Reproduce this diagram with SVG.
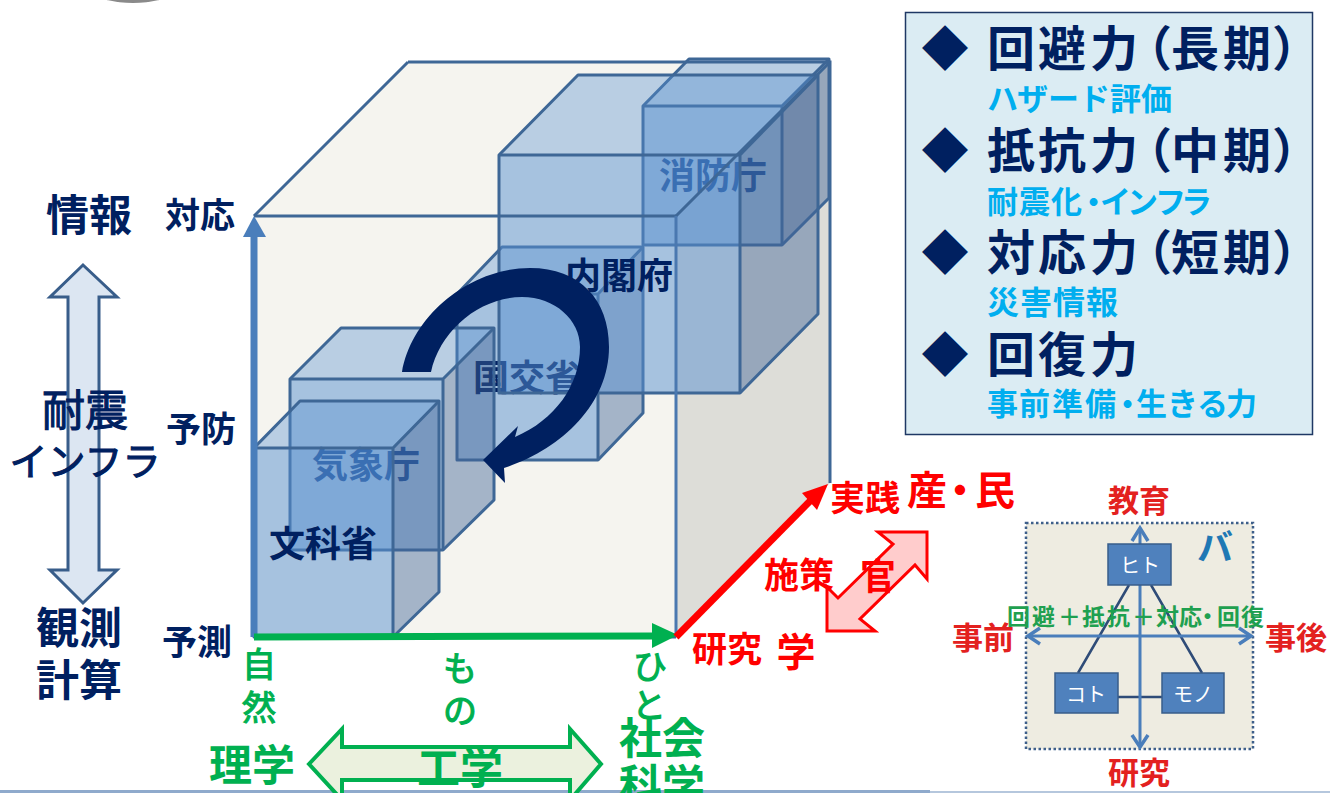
<svg xmlns="http://www.w3.org/2000/svg" width="1334" height="793" viewBox="0 0 1334 793">
<style>
text{font-family:"Noto Sans CJK JP","Liberation Sans",sans-serif;text-anchor:middle;dominant-baseline:central;font-weight:700}
.navy{fill:#002060}
.grn{fill:#00B050}
.thin{font-weight:400;stroke-width:1.1px}
.grn.thin{stroke:#00B050}
.navy.thin{stroke:#002060}
.red{fill:#FF0000}
.sky{fill:#00AEEF}
.rd2{fill:#E3211F}
.l{text-anchor:start}
.f{fill:#5890D0;fill-opacity:.5}
.t{fill:#5890D0;fill-opacity:.38}
.s{fill:#43659A;fill-opacity:.45}
.e{fill:none;stroke:#3E6796;stroke-width:3;stroke-linejoin:round}
.cube{fill:none;stroke:#3E6796;stroke-width:3}
.node{fill:#4F81BD;stroke:#385D8A;stroke-width:1.5}
.wt{fill:#fff;font-size:20px;font-weight:400}
.ln{stroke:#2F4C78;stroke-width:2.5;fill:none}
.ax{stroke:#4A7EBB;stroke-width:3;fill:none}
.hd{stroke:#4A7EBB;stroke-width:3.5;fill:none}
</style>
<ellipse id="top-shadow" cx="133" cy="-6" rx="35" ry="9" fill="#8A8A8A"/>
<rect x="0" y="790" width="930" height="3" fill="#8FAACC"/>
<rect x="930" y="791" width="400" height="2" fill="#B5C7DD"/>

<g id="cube-back">
<polygon points="254,216 408,62 830,62 830,483 676,637 254,637" fill="#F5F4EF"/>
<polygon points="676,216 830,62 830,483 676,637" fill="#DDDDD8"/>
</g>

<g id="node-kokkosho">
<polygon class="t" points="457,294 502,247 643,247 598,294"/>
<rect class="f" x="457" y="294" width="141" height="166"/>
<polygon class="s" points="598,294 643,247 643,413 598,460"/>
<polygon class="e" points="457,294 502,247 643,247 643,413 598,460 457,460"/>
<path class="e" d="M457,294H598V460M598,294L643,247"/>
<text class="navy" x="527" y="375" font-size="36">国交省</text>
</g>

<g id="node-shobocho">
<polygon class="t" points="643,106 689,59 829,59 782,106"/>
<rect class="f" x="643" y="106" width="139" height="139"/>
<polygon class="s" points="782,106 829,59 829,198 782,245"/>
<polygon class="e" points="643,106 689,59 829,59 829,198 782,245 643,245"/>
<path class="e" d="M643,106H782V245M782,106L829,59"/>
<text x="713" y="173" font-size="36" fill="#1D4E96">消防庁</text>
</g>

<g id="node-naikakufu">
<polygon class="t" points="499,155 578,75 818,75 740,155"/>
<rect class="f" x="499" y="155" width="241" height="238"/>
<polygon class="s" points="740,155 818,75 818,314 740,393"/>
<polygon class="e" points="499,155 578,75 818,75 818,314 740,393 499,393"/>
<path class="e" d="M499,155H740V393M740,155L818,75"/>
</g>

<g id="node-kishocho">
<polygon class="t" points="290,379 341,328 494,328 443,379"/>
<rect class="f" x="290" y="379" width="153" height="171"/>
<polygon class="s" points="443,379 494,328 494,500 443,550"/>
<polygon class="e" points="290,379 341,328 494,328 494,500 443,550 290,550"/>
<path class="e" d="M290,379H443V550M443,379L494,328"/>
<text x="366" y="462" font-size="36" fill="#1D4E96">気象庁</text>
</g>

<g id="node-monkasho">
<polygon class="t" points="254,448 300,401 439,401 393,448"/>
<rect class="f" x="254" y="448" width="139" height="189"/>
<polygon class="s" points="393,448 439,401 439,592 393,637"/>
<polygon class="e" points="254,448 300,401 439,401 439,592 393,637 254,637"/>
<path class="e" d="M254,448H393V637M393,448L439,401"/>
<text class="navy" x="323" y="541" font-size="36">文科省</text>
</g>

<g id="cube-front">
<path class="cube" d="M408,62H830V483M254,216L408,62M830,62L676,216"/>
<path d="M254,216H676" stroke="#3E6796" stroke-width="3" fill="none"/>
<path d="M676,216V637" stroke="#4A78B0" stroke-width="3" fill="none"/>
<path class="cube" d="M254,637H676"/>
</g>

<g id="connectors">
<path id="cycle-arrow" fill="#002060" d="M402,372 C412,315 470,268 530,268 C580,268 609,300 609,347 C609,405 560,450 504,468 L505,483 L483,460 L518,426 L515,437 C555,420 580,385 580,347 C580,320 555,297 522,297 C480,297 440,330 431,372 Z"/>
<path d="M254,637V232" stroke="#4A7EBB" stroke-width="7" fill="none"/>
<polygon points="243,237 254,216 266,237" fill="#4A7EBB"/>
<path d="M254,637L655,636" stroke="#00B050" stroke-width="7" fill="none"/>
<polygon points="652,623 678,635 652,648" fill="#00B050"/>
<path d="M676,637L815,496" stroke="#FF0000" stroke-width="7" fill="none"/>
<polygon points="802,493 828,484 817,510" fill="#FF0000"/>
</g>

<g id="node-naikakufu-label"><text class="navy" x="619" y="273" font-size="36">内閣府</text></g>

<g id="axis-left">
<polygon points="83,265 117,297 99,297 99,570 117,570 83,603 50,570 68,570 68,297 50,297" fill="#DCE6F2" stroke="#385D8A" stroke-width="3"/>
<text class="navy" x="89" y="212" font-size="43">情報</text>
<text class="navy thin" x="85" y="407" font-size="43">耐震</text>
<text class="navy thin" x="85" y="458" font-size="38">インフラ</text>
<text class="navy" x="79" y="625" font-size="43">観測</text>
<text class="navy" x="79" y="677" font-size="43">計算</text>
<text class="navy" x="200" y="212" font-size="35">対応</text>
<text class="navy" x="201" y="426" font-size="35">予防</text>
<text class="navy" x="197" y="639" font-size="35">予測</text>
</g>

<g id="axis-bottom">
<polygon points="309,764 342,729 342,747 570,747 570,729 601,764 570,800 570,780 342,780 342,800" fill="#EBF1DE" stroke="#00B050" stroke-width="4"/>
<text class="grn thin" x="259" y="662" font-size="34">自</text>
<text class="grn thin" x="259" y="705" font-size="34">然</text>
<text class="grn thin" x="460" y="666" font-size="34">も</text>
<text class="grn thin" x="460" y="708" font-size="34">の</text>
<text class="grn thin" x="650" y="664" font-size="34">ひ</text>
<text class="grn thin" x="649" y="703" font-size="34">と</text>
<text class="grn" x="662" y="735" font-size="43">社会</text>
<text class="grn" x="662" y="782" font-size="43">科学</text>
<text class="grn" x="252" y="762" font-size="43">理学</text>
<text class="grn" x="460" y="765" font-size="43">工学</text>
</g>

<g id="axis-depth">
<polygon points="878,532 927,532 927,579 915,565 860,619 875,631 827,631 827,587 838,598 893,544" fill="#FFCCCC" stroke="#FF0000" stroke-width="3"/>
<text class="red" x="865" y="495" font-size="35">実践</text>
<text class="red l" x="907 940 975" y="488" font-size="40">産・民</text>
<text class="red" x="799" y="572" font-size="35">施策</text>
<text class="red" x="878" y="574" font-size="36">官</text>
<text class="red" x="727" y="646" font-size="35">研究</text>
<text class="red" x="796" y="649" font-size="39">学</text>
</g>

<g id="legend">
<rect x="905.5" y="12.5" width="407" height="422" fill="#DBECF3" stroke="#1F3864" stroke-width="1.5"/>
<text class="navy" x="945" y="45" font-size="47">◆</text>
<text class="navy l" x="987 1038 1090 1124 1171 1223 1272" y="45" font-size="48">回避力（長期）</text>
<text class="sky l" x="987 1017 1048 1079 1110 1141" y="96" font-size="31">ハザード評価</text>
<text class="navy" x="945" y="147" font-size="47">◆</text>
<text class="navy l" x="987 1038 1090 1124 1171 1223 1272" y="147" font-size="48">抵抗力（中期）</text>
<text class="sky l" x="987 1019 1051 1078 1100 1127 1155 1181" y="199" font-size="31">耐震化・インフラ</text>
<text class="navy" x="945" y="249" font-size="47">◆</text>
<text class="navy l" x="987 1038 1090 1124 1171 1223 1272" y="249" font-size="48">対応力（短期）</text>
<text class="sky l" x="987 1020 1053 1086" y="300" font-size="32">災害情報</text>
<text class="navy" x="945" y="351" font-size="47">◆</text>
<text class="navy l" x="987 1038 1090" y="351" font-size="48">回復力</text>
<text class="sky l" x="987 1019 1052 1085 1112 1136 1167 1197 1226" y="401" font-size="31">事前準備・生きる力</text>
</g>

<g id="ba-frame">
<rect x="1026" y="523" width="227" height="226" fill="#EEECE1" stroke="#3E5F8A" stroke-width="2.5" stroke-dasharray="2.5 2.5"/>
<text x="1215" y="545" font-size="36" fill="#1F78B4">バ</text>
</g>
<g id="ba-connectors">
<path class="ln" d="M1129,585L1078,673M1151,585L1202,673M1118,697H1162"/>
<path class="ax" d="M1140,529V746M1028,636H1251"/>
<path class="hd" d="M1132,541L1140,528L1148,541M1132,735L1140,747L1148,735M1040,628L1028,636L1040,644M1239,628L1251,636L1239,644"/>
</g>
<g id="node-hito"><rect class="node" x="1108" y="544" width="63" height="41"/><text class="wt" x="1140" y="564">ヒト</text></g>
<g id="node-koto"><rect class="node" x="1055" y="673" width="63" height="40"/><text class="wt" x="1086" y="693">コト</text></g>
<g id="node-mono"><rect class="node" x="1162" y="673" width="62" height="40"/><text class="wt" x="1193" y="693">モノ</text></g>
<g id="ba-labels">
<text class="l" x="1007 1032 1058 1082 1107 1132 1156 1179 1196 1217 1241" y="615" font-size="23" fill="#1FA050">回避＋抵抗＋対応・回復</text>
<text class="rd2" x="983" y="635" font-size="31">事前</text>
<text class="rd2" x="1296" y="635" font-size="31">事後</text>
<text class="rd2" x="1139" y="498" font-size="31">教育</text>
<text class="rd2" x="1139" y="770" font-size="31">研究</text>
</g>
</svg>
